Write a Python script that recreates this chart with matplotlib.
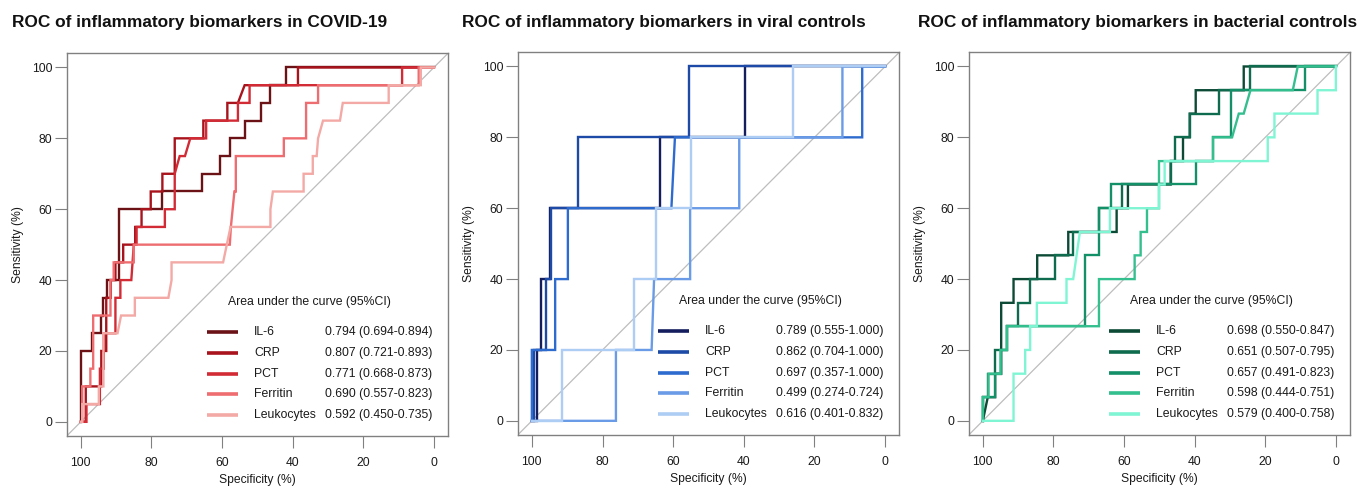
import matplotlib
matplotlib.use("Agg")
import matplotlib.pyplot as plt
from matplotlib.lines import Line2D

plt.rcParams['font.family'] = ['Liberation Sans', 'DejaVu Sans']

# ---------------- data ----------------
markers = ["IL-6", "CRP", "PCT", "Ferritin", "Leukocytes"]

titles = ["ROC of inflammatory biomarkers in COVID-19",
          "ROC of inflammatory biomarkers in viral controls",
          "ROC of inflammatory biomarkers in bacterial controls"]

covid_auc = ["0.794 (0.694-0.894)", "0.807 (0.721-0.893)", "0.771 (0.668-0.873)",
             "0.690 (0.557-0.823)", "0.592 (0.450-0.735)"]
viral_auc = ["0.789 (0.555-1.000)", "0.862 (0.704-1.000)", "0.697 (0.357-1.000)",
             "0.499 (0.274-0.724)", "0.616 (0.401-0.832)"]
bact_auc = ["0.698 (0.550-0.847)", "0.651 (0.507-0.795)", "0.657 (0.491-0.823)",
            "0.598 (0.444-0.751)", "0.579 (0.400-0.758)"]

covid_colors = ["#6B1216", "#A8131C", "#D22B35", "#EE6D70", "#F3A9A5"]
viral_colors = ["#141E5E", "#1C4AA6", "#2E6BCF", "#6A9BE6", "#AECDF5"]
bact_colors = ["#0C4A36", "#0F6B4D", "#149068", "#34BF8F", "#7FF5D4"]

# (specificity %, sensitivity %) vertices
covid_il6 = [(100, 0), (100, 20), (96.8, 20), (96.8, 25), (94.3, 25), (94.3, 30), (93.6, 30),
             (93.6, 35), (92.6, 35), (92.6, 40), (89.1, 40), (89.1, 60), (76.9, 60), (76.9, 65),
             (65.6, 65), (65.6, 70), (60.6, 70), (60.6, 75), (57.8, 75), (57.8, 80), (53.6, 80),
             (53.6, 85), (48.9, 85), (48.9, 90), (46.3, 90), (46.3, 95), (42.0, 95), (42.0, 100),
             (0, 100)]
covid_crp = [(100, 0), (98.6, 0), (98.6, 10), (94.2, 10), (94.2, 20), (92.8, 20), (92.8, 35),
             (91.5, 35), (91.5, 40), (90.2, 40), (90.2, 45), (88.0, 45), (88.0, 50), (84.6, 50),
             (84.6, 55), (82.8, 55), (82.8, 60), (80.2, 60), (80.2, 65), (76.9, 65), (76.9, 70),
             (73.4, 70), (73.4, 80), (65.3, 80), (65.3, 85), (58.5, 85), (58.5, 90), (55.5, 90),
             (53.6, 95), (38.5, 95), (38.5, 100), (0, 100)]
covid_pct = [(100, 0), (98.4, 0), (98.4, 5), (94.6, 5), (94.6, 15), (93.5, 15), (93.5, 25),
             (90.2, 25), (90.2, 35), (88.8, 35), (88.8, 40), (85.7, 40), (85.0, 50), (84.2, 50),
             (84.2, 55), (76.2, 55), (76.2, 60), (73.4, 60), (73.4, 70), (72.0, 75), (70.5, 75),
             (69.0, 80), (64.5, 80), (64.5, 85), (55.5, 85), (55.5, 90), (52.2, 90), (52.2, 95),
             (9.0, 95), (9.0, 100), (0, 100)]
covid_ferritin = [(100, 0), (99.6, 0), (99.6, 10), (97.3, 10), (97.3, 15), (96.5, 15), (96.5, 30),
                  (91.6, 30), (91.6, 40), (90.7, 40), (90.7, 45), (85.0, 45), (85.0, 50),
                  (57.8, 50), (57.5, 55), (57.0, 60), (56.5, 65), (56.1, 65), (56.1, 75),
                  (42.5, 75), (42.5, 80), (36.2, 80), (36.2, 90), (32.8, 90), (32.8, 95),
                  (4.3, 95), (4.3, 100), (0, 100)]
covid_leuko = [(100, 0), (99.6, 0), (99.6, 5), (94.9, 5), (94.9, 10), (93.6, 10), (93.6, 25),
               (89.6, 25), (88.6, 30), (84.7, 30), (84.7, 35), (75.2, 35), (74.3, 40), (74.3, 45),
               (59.7, 45), (57.6, 55), (46.3, 55), (46.3, 60), (45.6, 65), (36.9, 65), (36.9, 70),
               (34.3, 70), (34.3, 75), (33.2, 75), (32.8, 80), (31.4, 85), (26.6, 85), (25.8, 90),
               (12.8, 90), (12.8, 95), (3.7, 95), (3.7, 100), (0, 100)]

viral_il6 = [(100, 0), (98.6, 0), (98.6, 20), (97.3, 20), (97.3, 40), (94.8, 40), (94.8, 60),
             (63.8, 60), (63.8, 80), (39.7, 80), (39.7, 100), (0, 100)]
viral_crp = [(100, 0), (99.5, 0), (99.5, 20), (96.0, 20), (96.0, 40), (94.5, 40), (94.5, 60),
             (86.8, 60), (86.8, 80), (55.5, 80), (55.5, 100), (0, 100)]
viral_pct = [(100, 0), (100, 20), (93.4, 20), (93.4, 40), (89.8, 40), (89.8, 60), (60.5, 60),
             (59.5, 80), (6.5, 80), (6.5, 100), (0, 100)]
viral_ferritin = [(100, 0), (76.2, 0), (76.2, 20), (66.1, 20), (65.4, 40), (55.2, 40), (55.2, 60),
                  (41.3, 60), (41.3, 80), (12.1, 80), (12.1, 100), (0, 100)]
viral_leuko = [(100, 0), (91.5, 0), (91.5, 20), (71.0, 20), (71.0, 40), (65.0, 40), (65.0, 60),
               (55.0, 60), (55.0, 80), (26.0, 80), (26.0, 100), (0, 100)]

bact_il6 = [(100, 0), (98.6, 6.67), (96.5, 6.67), (96.5, 13.3), (94.8, 13.3), (94.8, 33.3),
            (91.3, 33.3), (91.3, 40), (84.6, 40), (84.6, 46.7), (75.8, 46.7), (75.8, 53.3),
            (62.1, 53.3), (62.1, 60), (58.9, 60), (58.9, 66.7), (46.8, 66.7), (46.8, 73.3),
            (43.3, 73.3), (43.3, 80), (41.4, 80), (41.4, 86.7), (39.7, 86.7), (39.7, 93.3),
            (26.1, 93.3), (26.1, 100), (0, 100)]
bact_crp = [(100, 0), (100, 6.67), (98.4, 6.67), (98.4, 13.3), (96.5, 13.3), (96.5, 20),
            (93.2, 20), (93.2, 26.7), (89.9, 26.7), (89.9, 33.3), (86.6, 33.3), (86.6, 40),
            (79.6, 40), (79.6, 46.7), (74.4, 46.7), (74.4, 53.3), (67.1, 53.3), (67.1, 60),
            (60.5, 60), (60.5, 66.7), (46.8, 66.7), (46.8, 73.3), (45.5, 73.3), (45.5, 80),
            (41.4, 80), (41.4, 86.7), (33.0, 86.7), (33.0, 93.3), (24.2, 93.3), (24.2, 100),
            (0, 100)]
bact_pct = [(100, 0), (100, 6.67), (96.5, 6.67), (96.5, 13.3), (94.8, 13.3), (94.8, 20),
            (93.2, 20), (93.2, 26.7), (71.0, 26.7), (71.0, 46.7), (67.1, 46.7), (67.1, 60),
            (63.8, 60), (63.8, 66.7), (39.7, 66.7), (39.7, 73.3), (34.8, 73.3), (34.8, 80),
            (29.7, 80), (29.7, 93.3), (8.7, 93.3), (8.7, 100), (0, 100)]
bact_ferritin = [(100, 0), (100, 6.67), (98.4, 6.67), (98.4, 13.3), (95.0, 13.3), (95.0, 20),
                 (93.2, 20), (93.2, 26.7), (67.1, 26.7), (67.1, 40), (57.0, 40), (57.0, 46.7),
                 (55.3, 46.7), (55.3, 53.3), (53.5, 53.3), (53.5, 60), (50.1, 60), (50.1, 73.3),
                 (34.8, 73.3), (34.8, 80), (29.4, 80), (27.5, 86.7), (26.1, 86.7), (24.2, 93.3),
                 (12.2, 93.3), (10.8, 100), (0, 100)]
bact_leuko = [(100, 0), (91.3, 0), (91.3, 13.3), (88.0, 13.3), (88.0, 20), (86.6, 20),
              (86.6, 26.7), (84.7, 26.7), (84.7, 33.3), (76.3, 33.3), (76.3, 40), (74.4, 40),
              (72.5, 53.3), (64.0, 53.3), (64.0, 60), (50.1, 60), (50.1, 66.7), (48.5, 66.7),
              (48.5, 73.3), (19.3, 73.3), (19.3, 80), (17.4, 80), (17.4, 86.7), (5.2, 86.7),
              (5.2, 93.3), (0, 93.3), (0, 100)]

panels = [
    ([covid_il6, covid_crp, covid_pct, covid_ferritin, covid_leuko], covid_colors, covid_auc),
    ([viral_il6, viral_crp, viral_pct, viral_ferritin, viral_leuko], viral_colors, viral_auc),
    ([bact_il6, bact_crp, bact_pct, bact_ferritin, bact_leuko], bact_colors, bact_auc),
]

# ---------------- layout ----------------
W, H = 1371, 493
fig = plt.figure(figsize=(W / 100, H / 100), dpi=100)

box_px = [(66.7, 53.3, 448.0, 436.0), (517.7, 52.3, 899.3, 435.0), (968.7, 52.3, 1350.0, 435.0)]
title_x = [12, 462, 918]
grey = "#808080"
txt = "#1a1a1a"

for i, (curves, colors, aucs) in enumerate(panels):
    l, t, r, b = box_px[i]
    ax = fig.add_axes([l / W, 1 - b / H, (r - l) / W, (b - t) / H])
    ax.set_xlim(104, -4)
    ax.set_ylim(-4, 104)
    ax.axline((100, 0), (0, 100), color="#BDBDBD", lw=0.9, zorder=1)
    for pts, c in zip(curves, colors):
        xs = [p[0] for p in pts]
        ys = [p[1] for p in pts]
        ax.plot(xs, ys, color=c, lw=1.7, zorder=2, solid_joinstyle="miter")
    ax.set_xticks([100, 80, 60, 40, 20, 0])
    ax.set_yticks([0, 20, 40, 60, 80, 100])
    ax.tick_params(axis="both", length=8.5, width=0.8, color=grey, labelsize=8.7,
                   labelcolor=txt)
    ax.tick_params(axis="x", pad=6.5)
    ax.tick_params(axis="y", pad=2)
    for s in ax.spines.values():
        s.set_color(grey)
        s.set_linewidth(1.0)
    ax.set_xlabel("Specificity (%)", fontsize=8.7, color=txt)
    ax.set_ylabel("Sensitivity (%)", fontsize=8.7, color=txt)
    ax.xaxis.set_label_coords(0.5, -0.098)
    ax.yaxis.set_label_coords(-0.112, 0.5)

    # legend block
    ax.text(0.422, 0.349, "Area under the curve (95%CI)", transform=ax.transAxes,
            fontsize=8.8, color=txt, va="center", ha="left")
    rows_y = [0.271, 0.217, 0.163, 0.110, 0.056]
    for name, c, a, yy in zip(markers, colors, aucs, rows_y):
        ax.add_line(Line2D([0.367, 0.449], [yy, yy], transform=ax.transAxes,
                           color=c, lw=2.6, solid_capstyle="butt"))
        ax.text(0.491, yy, name, transform=ax.transAxes, fontsize=8.8, color=txt,
                va="center", ha="left")
        ax.text(0.678, yy, a, transform=ax.transAxes, fontsize=8.8, color=txt,
                va="center", ha="left")

    fig.text(title_x[i] / W, 1 - 22 / H, titles[i], fontsize=12.4, fontweight="bold",
             color="#111111", ha="left", va="center")

fig.savefig("out.png", dpi=100)
